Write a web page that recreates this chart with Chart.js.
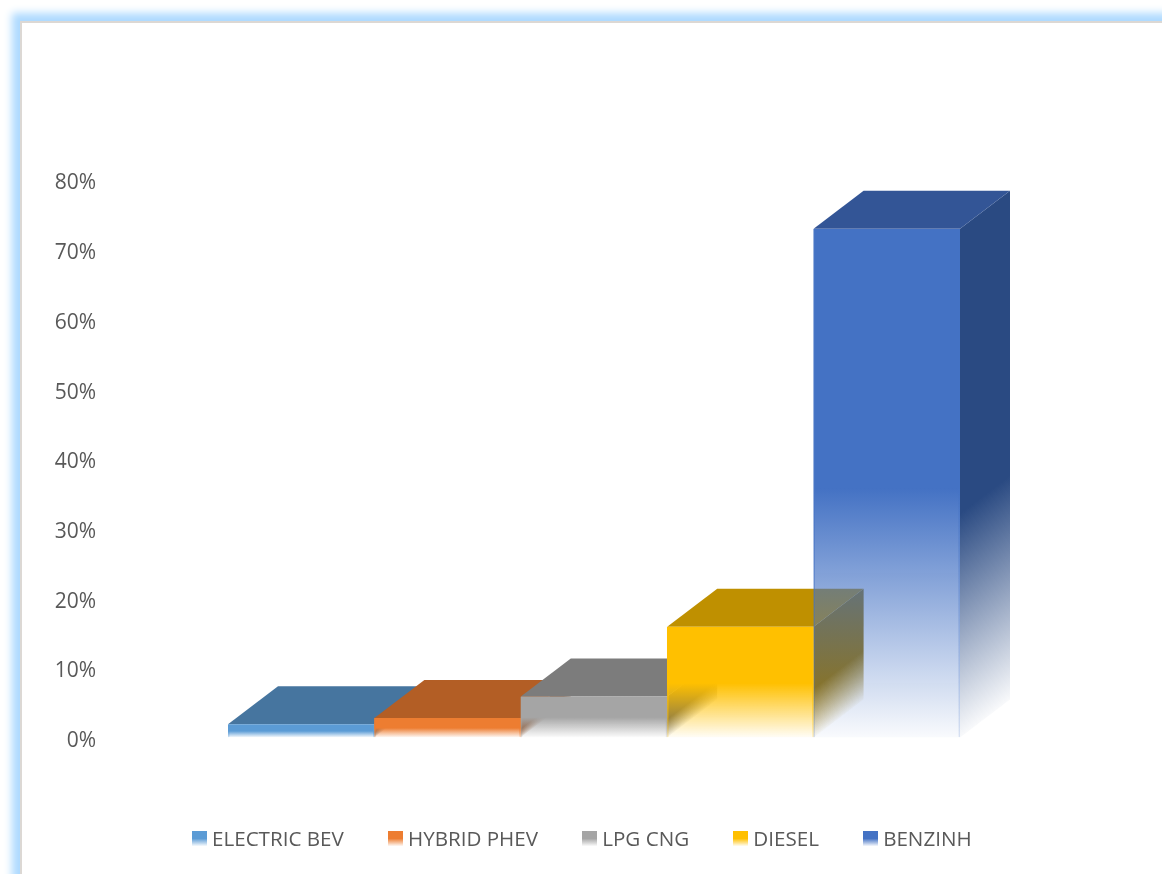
<!DOCTYPE html>
<html>
<head>
<meta charset="utf-8">
<title>Fuel share</title>
<script src="https://cdn.jsdelivr.net/npm/chart.js@4/dist/chart.umd.min.js"></script>
<style>
    html, body { margin: 0; height: 100%; background: #fff; overflow: hidden; }
    .card {
        position: absolute; left: 20px; top: 21px; width: 1400px; height: 1100px;
        background: #fff; border: 2px solid #dcd8d4;
        box-shadow: 0 0 8px 8px #aedaff;
    }
    #fuelChart { position: absolute; left: 0; top: 0; }
    #legend {
        position: absolute; left: 192px; top: 824px; display: flex; gap: 44.2px;
        font: 20.6px 'Open Sans', sans-serif; color: #595959; white-space: nowrap;
    }
    #legend div { display: flex; align-items: center; }
    #legend i { display: block; width: 15px; height: 15px; margin-right: 5px; }
</style>
</head>
<body>
<div class="card"></div>
<canvas id="fuelChart" width="1162" height="874"></canvas>
<div id="legend"></div>
<script>
const fuelTypes = ['ELECTRIC BEV', 'HYBRID PHEV', 'LPG CNG', 'DIESEL', 'BENZINH'];
const shares = [1.9, 2.8, 5.9, 15.9, 73];
const frontColors = ['#5b9bd5', '#ed7d31', '#a5a5a5', '#ffc000', '#4472c4'];
const topColors = ['#46759f', '#b35e25', '#7c7c7c', '#bf9000', '#335596'];
const sideColors = ['#36607f', '#8f4b1d', '#636363', '#9a7400', '#2a4a82'];

const DEPTH_X = 50;
const DEPTH_Y = 38;

function withAlpha(hex, a) {
    const n = parseInt(hex.slice(1), 16);
    return `rgba(${n >> 16}, ${(n >> 8) & 255}, ${n & 255}, ${a})`;
}

// solid down to about half way, then fades out towards the base
function fadeGradient(ctx, color, top, bottom, endAlpha = 0.03, solidTo = 0.51) {
    const g = ctx.createLinearGradient(0, top, 0, bottom);
    g.addColorStop(0, color);
    g.addColorStop(solidTo, color);
    g.addColorStop(1, withAlpha(color, endAlpha));
    return g;
}

function barGradient(c, endAlpha) {
    const color = frontColors[c.dataIndex];
    if (!c.chart.chartArea || c.dataIndex === undefined) return color || '#000';
    const y = c.chart.scales.y;
    return fadeGradient(c.chart.ctx, color, y.getPixelForValue(shares[c.dataIndex]), y.getPixelForValue(0), endAlpha);
}

// side and top faces, left to right, all under the bar fronts
const extrude = {
    id: 'extrude',
    beforeDatasetDraw(chart, args) {
        const ctx = chart.ctx;
        chart.getDatasetMeta(args.index).data.forEach((bar, i) => {
            const left = bar.x - bar.width / 2;
            const right = bar.x + bar.width / 2;
            const top = bar.y;
            const bottom = bar.base;

            ctx.save();
            ctx.transform(1, -DEPTH_Y / DEPTH_X, 0, 1, right, 0);
            ctx.fillStyle = fadeGradient(ctx, sideColors[i], top, bottom, 0.03, 0.56);
            ctx.fillRect(0, top, DEPTH_X, bottom - top);
            ctx.restore();

            ctx.fillStyle = topColors[i];
            ctx.beginPath();
            ctx.moveTo(left, top);
            ctx.lineTo(left + DEPTH_X, top - DEPTH_Y);
            ctx.lineTo(right + DEPTH_X, top - DEPTH_Y);
            ctx.lineTo(right, top);
            ctx.closePath();
            ctx.fill();
        });
    }
};

new Chart(document.getElementById('fuelChart'), {
    type: 'bar',
    data: {
        labels: fuelTypes,
        datasets: [{
            data: shares,
            borderWidth: { left: 1, right: 1, top: 0, bottom: 0 },
            borderColor: c => barGradient(c, 0.2),
            backgroundColor: c => barGradient(c)
        }]
    },
    plugins: [extrude],
    options: {
        responsive: false,
        animation: false,
        categoryPercentage: 1,
        barPercentage: 1,
        layout: { padding: { left: 0, right: 202, top: 180, bottom: 136.5 } },
        plugins: { legend: { display: false }, tooltip: { enabled: false } },
        scales: {
            x: { display: false },
            y: {
                min: 0,
                max: 80,
                afterFit(scale) {
                    scale.width = 228;
                    scale.paddingTop = 0;
                    scale.paddingBottom = 0;
                },
                grid: { display: false },
                border: { display: false },
                ticks: {
                    stepSize: 10,
                    padding: 124,
                    color: '#595959',
                    font: { family: "'Open Sans', sans-serif", size: 21, lineHeight: '7px' },
                    // empty first line drops the label a little below its tick
                    callback: v => ['', v + '%']
                }
            }
        }
    }
});

const legend = document.getElementById('legend');
fuelTypes.forEach((name, i) => {
    const item = document.createElement('div');
    const box = document.createElement('i');
    box.style.background = `linear-gradient(${frontColors[i]} 50%, ${withAlpha(frontColors[i], 0.05)})`;
    item.append(box, name);
    legend.append(item);
});
</script>
</body>
</html>
